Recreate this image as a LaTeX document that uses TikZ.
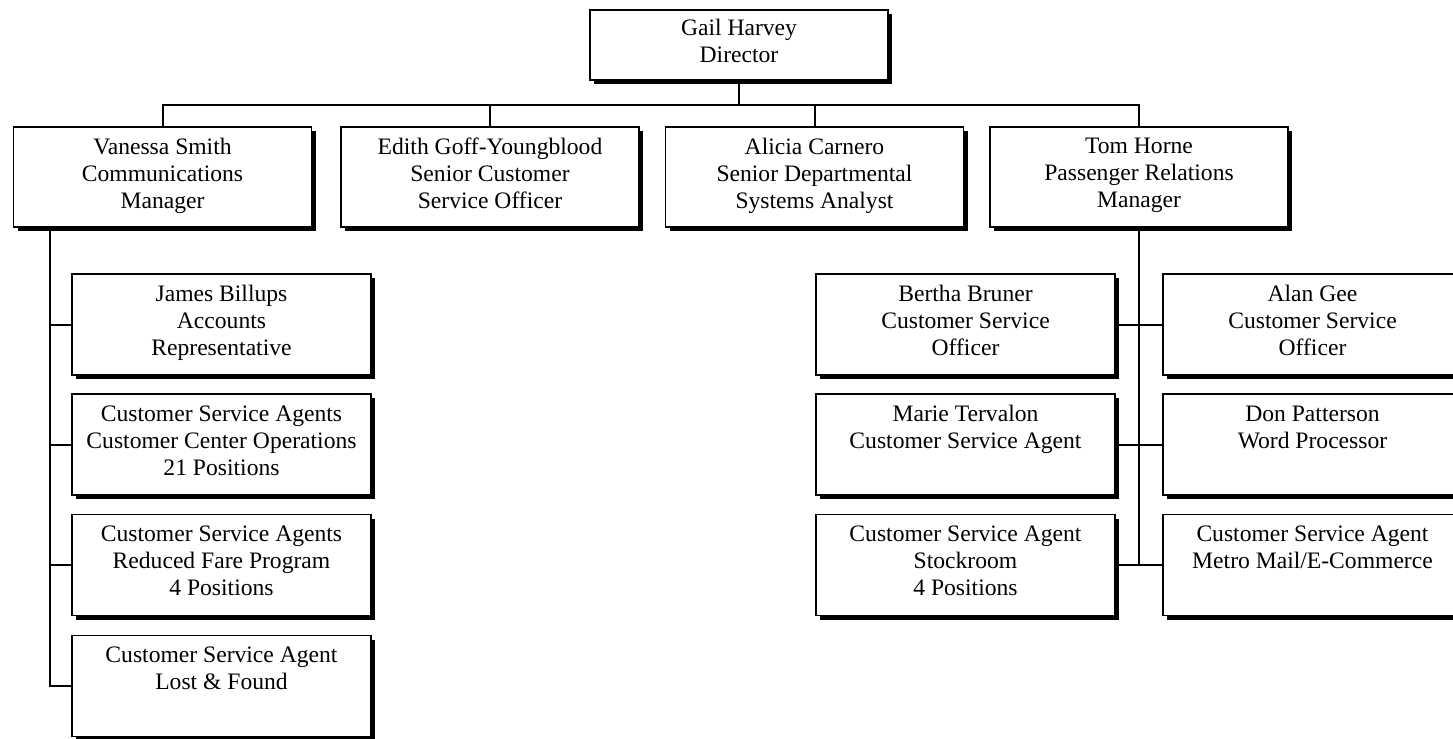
\documentclass[tikz,border=0pt]{standalone}
\usepackage{fontspec}
\setmainfont{Liberation Serif}
\usetikzlibrary{shadows}
\tikzset{
  box/.style={draw, fill=white, line width=0.7pt, inner sep=0pt, align=center,
    minimum width=149.5pt, minimum height=50.5pt,
    font=\fontsize{11.8pt}{13.5pt}\selectfont,
    execute at begin node=\rule{0pt}{11.8pt}, execute at end node=\strut,
    drop shadow={shadow xshift=2pt, shadow yshift=-2pt, fill=black, opacity=1}},
  topbox/.style={box, minimum width=149pt, minimum height=35pt},
  midbox/.style={box, minimum width=149pt, minimum height=50pt},
  conn/.style={line width=1pt}
}
\newcommand{\blank}{\phantom{X}}
\begin{document}
\begin{tikzpicture}[x=0.5pt, y=-0.5pt]
\clip (0,0) rectangle (1453,739);
\fill[white] (0,0) rectangle (1453,739);
% director
\node[topbox] (G) at (739,45) {Gail Harvey\\Director};
% level 2
\node[midbox] (V) at (162.5,177) {Vanessa Smith\\Communications\\Manager};
\node[midbox] (E) at (490,177) {Edith Goff-Youngblood\\Senior Customer\\Service Officer};
\node[midbox] (A) at (814.5,177) {Alicia Carnero\\Senior Departmental\\Systems Analyst};
\node[midbox] (T) at (1139,177) {Tom Horne\\Passenger Relations\\Manager};
% left column
\node[box] (L1) at (221.5,324.5) {James Billups\\Accounts\\Representative};
\node[box] (L2) at (221.5,444.5) {Customer Service Agents\\Customer Center Operations\\21 Positions};
\node[box] (L3) at (221.5,565) {Customer Service Agents\\Reduced Fare Program\\4 Positions};
\node[box] (L4) at (221.5,686) {Customer Service Agent\\Lost \& Found\\\blank};
% right columns
\node[box] (B) at (965.5,324.5) {Bertha Bruner\\Customer Service\\Officer};
\node[box] (M) at (965.5,444.5) {Marie Tervalon\\Customer Service Agent\\\blank};
\node[box] (S) at (965.5,565) {Customer Service Agent\\Stockroom\\4 Positions};
\node[box] (AG) at (1312.5,324.5) {Alan Gee\\Customer Service\\Officer};
\node[box] (D) at (1312.5,444.5) {Don Patterson\\Word Processor\\\blank};
\node[box] (MM) at (1312.5,565) {Customer Service Agent\\Metro Mail/E-Commerce\\\blank};
% bus
\coordinate (busL) at (162.5,105);
\coordinate (busR) at (1139,105);
\draw[conn] (V.north) -- (busL) -- (busR) -- (T.north);
\draw[conn] (G.south) -- (G.south |- busL);
\draw[conn] (E.north) -- (E.north |- busL);
\draw[conn] (A.north) -- (A.north |- busL);
% left spine
\coordinate (vtop) at (50,227);
\draw[conn] (vtop) -- (vtop |- L4.west) -- (L4.west);
\draw[conn] (vtop |- L1.west) -- (L1.west);
\draw[conn] (vtop |- L2.west) -- (L2.west);
\draw[conn] (vtop |- L3.west) -- (L3.west);
% right spine
\draw[conn] (T.south) -- (T.south |- S.east);
\draw[conn] (B.east) -- (AG.west);
\draw[conn] (M.east) -- (D.west);
\draw[conn] (S.east) -- (MM.west);
\end{tikzpicture}
\end{document}
